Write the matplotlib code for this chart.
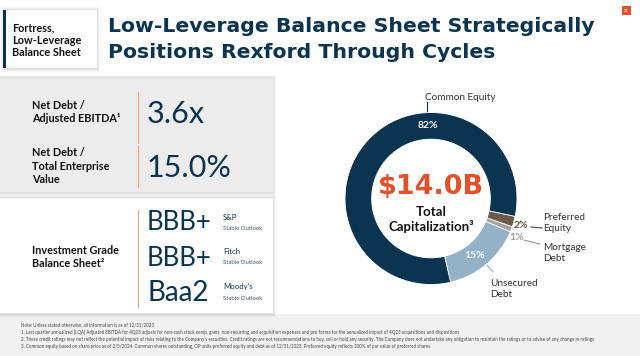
import matplotlib.pyplot as plt
from matplotlib.patches import Rectangle

# ---- data ----
cap_labels = ["Preferred Equity", "Mortgage Debt", "Unsecured Debt", "Common Equity"]
cap_shares = [2, 1, 15, 82]
cap_colors = ["#6e5a4c", "#a3a3a3", "#93b2c8", "#0b3450"]
total_cap = "$14.0B"

metric_names = ["Net Debt /\nAdjusted EBITDA\u00b9", "Net Debt /\nTotal Enterprise\nValue"]
metric_values = ["3.6x", "15.0%"]

rating_values = ["BBB+", "BBB+", "Baa2"]
rating_agencies = ["S&P", "Fitch", "Moody\u2019s"]
rating_outlooks = ["Stable Outlook"] * 3

footnotes = [
    "Note: Unless stated otherwise, all information is as of 12/31/2023",
    "1. Last quarter annualized (LQA) Adjusted EBITDA for 4Q23 adjusts for non-cash stock comp, gains, non-recurring and acquisition expenses and pro forma for the annualized impact of 4Q23 acquisitions and dispositions",
    "2. These credit ratings may not reflect the potential impact of risks relating to the Company\u2019s securities. Credit ratings are not recommendations to buy, sell or hold any security. The Company does not undertake any obligation to maintain the ratings or to advise of any change in ratings",
    "3. Common equity based on share price as of 2/5/2024. Common shares outstanding, OP units preferred equity and debt as of 12/31/2023. Preferred equity reflects 100% of par value of preferred shares",
]

NAVY = "#0b3450"
ORANGE = "#e4502a"
FONT = ["Lato", "DejaVu Sans"]
plt.rcParams["font.family"] = FONT

W, H = 640, 356
fig = plt.figure(figsize=(6.4, 3.56), dpi=100)
fig.patch.set_facecolor("white")
bg = fig.add_axes([0, 0, 1, 1])
bg.set_xlim(0, W)
bg.set_ylim(H, 0)
bg.axis("off")
renderer = fig.canvas.get_renderer()

def fit_width(t, target):
    # scale font so the text spans the wanted pixel width
    w = t.get_window_extent(renderer).width
    t.set_fontsize(t.get_fontsize() * target / w)

def box(x, y, w, h, color, shadow=True, **kw):
    if shadow:
        for i, a in enumerate([0.05, 0.04, 0.03]):
            bg.add_patch(Rectangle((x - 1 - i, y - 1 - i), w + 2 + 2 * i, h + 3 + 2 * i,
                                   color="#000000", alpha=a, lw=0))
    bg.add_patch(Rectangle((x, y), w, h, color=color, lw=0, **kw))

# footer band
bg.add_patch(Rectangle((0, 314), W, 42, color="#f1f1f1", lw=0))

# top-left tag box
box(4, 10, 93, 58, "white")
bg.add_patch(Rectangle((3, 10), 2.6, 58, color=NAVY, lw=0))
bg.text(12, 40, "Fortress,\nLow-Leverage\nBalance Sheet", fontsize=7.8, fontweight="bold",
        color="#111111", va="center", ha="left", linespacing=1.15)

# title
t1 = bg.text(108, 27, "Low-Leverage Balance Sheet Strategically", fontsize=15,
             fontweight="bold", family="DejaVu Sans", color=NAVY, va="center", ha="left")
fit_width(t1, 487)
t2 = bg.text(108, 52, "Positions Rexford Through Cycles", fontsize=t1.get_fontsize(),
             fontweight="bold", family="DejaVu Sans", color=NAVY, va="center", ha="left")

# page number
bg.add_patch(Rectangle((622, 6), 9, 9, color=ORANGE, lw=0))
bg.text(626.5, 10.5, "31", fontsize=3, color="white", ha="center", va="center", fontweight="bold")

# left panels
box(0, 78, 273, 114, "#ececec")
box(0, 198, 273, 115, "white")

metric_y = [112, 166]
line_span = [(92, 143), (146, 187)]
for name, val, y, (y0, y1) in zip(metric_names, metric_values, metric_y, line_span):
    bg.text(32, y, name, fontsize=7.8, fontweight="bold", color="#111111",
            va="center", ha="left", linespacing=1.25)
    bg.plot([138, 138], [y0, y1], color="#f0a48c", lw=0.9)
    bg.text(147, y + 2, val, fontsize=22, fontweight="normal", color=NAVY, va="center", ha="left")

bg.text(32, 257, "Investment Grade\nBalance Sheet\u00b2", fontsize=7.8, fontweight="bold",
        color="#111111", va="center", ha="left", linespacing=1.25)
bg.plot([138, 138], [210, 307], color="#f0a48c", lw=0.9)
rating_y = [222, 257, 292]
for val, ag, ol, y in zip(rating_values, rating_agencies, rating_outlooks, rating_y):
    rv = bg.text(147, y + 1, val, fontsize=21, fontweight="normal", color=NAVY, va="center", ha="left")
    fit_width(rv, 65 if val.startswith("B") and val.endswith("+") else 62)
    bg.text(223, y - 5, ag, fontsize=5.6, color=NAVY, va="center", ha="left")
    bg.text(223, y + 6, ol, fontsize=4.3, color="#3d5a73", va="center", ha="left")

# footnotes
for i, fn in enumerate(footnotes):
    bg.text(21, 325 + i * 7.2, fn, fontsize=3.25, color="#444444", va="center", ha="left")

# ---- donut ----
cx, cy, R = 431, 198.5, 86
pie_ax = fig.add_axes([(cx - R) / W, (H - cy - R) / H, 2 * R / W, 2 * R / H])
wedges, _ = pie_ax.pie(cap_shares, colors=cap_colors, startangle=-12, counterclock=False,
                       radius=1, wedgeprops=dict(width=0.31, edgecolor="white", linewidth=0.6))
pie_ax.set_xlim(-1, 1)
pie_ax.set_ylim(-1, 1)
pie_ax.axis("off")

tc = pie_ax.text(0, 0.13, total_cap, fontsize=21, fontweight="bold", family="DejaVu Sans",
                 color=ORANGE, ha="center", va="center")
fit_width(tc, 106)
pie_ax.text(0, -0.24, "Total\nCapitalization\u00b3", fontsize=9.5, fontweight="bold",
            color="#111111", ha="center", va="center", linespacing=1.2)

pie_ax.text(-0.04, 0.85, "82%", fontsize=7.5, fontweight="bold", color="white", ha="center", va="center")
pie_ax.text(0.51, -0.66, "15%", fontsize=7.5, fontweight="bold", color="white", ha="center", va="center")
pie_ax.text(1.04, -0.31, "2%", fontsize=7.5, fontweight="bold", color=cap_colors[0], ha="center", va="center")
pie_ax.text(0.99, -0.45, "1%", fontsize=7.5, fontweight="bold", color=cap_colors[1], ha="center", va="center")

# outer labels and leaders (pixel coords)
bg.plot([427, 427], [102, 113], color=NAVY, lw=0.8)
bg.text(460, 97, "Common Equity", fontsize=7.2, color="#333333", ha="center", va="center")
bg.plot([531, 542], [227, 228], color="#444444", lw=0.8)
bg.text(543, 223, "Preferred\nEquity", fontsize=7.2, color="#333333", ha="left", va="center", linespacing=1.15)
bg.plot([524, 540], [240, 244], color="#999999", lw=0.8)
bg.text(543, 253, "Mortgage\nDebt", fontsize=7.2, color="#333333", ha="left", va="center", linespacing=1.15)
bg.plot([486, 493], [264, 272], color=cap_colors[2], lw=0.8)
bg.text(490, 289, "Unsecured\nDebt", fontsize=7.2, color="#333333", ha="left", va="center", linespacing=1.15)

fig.savefig("out.png", dpi=100)
